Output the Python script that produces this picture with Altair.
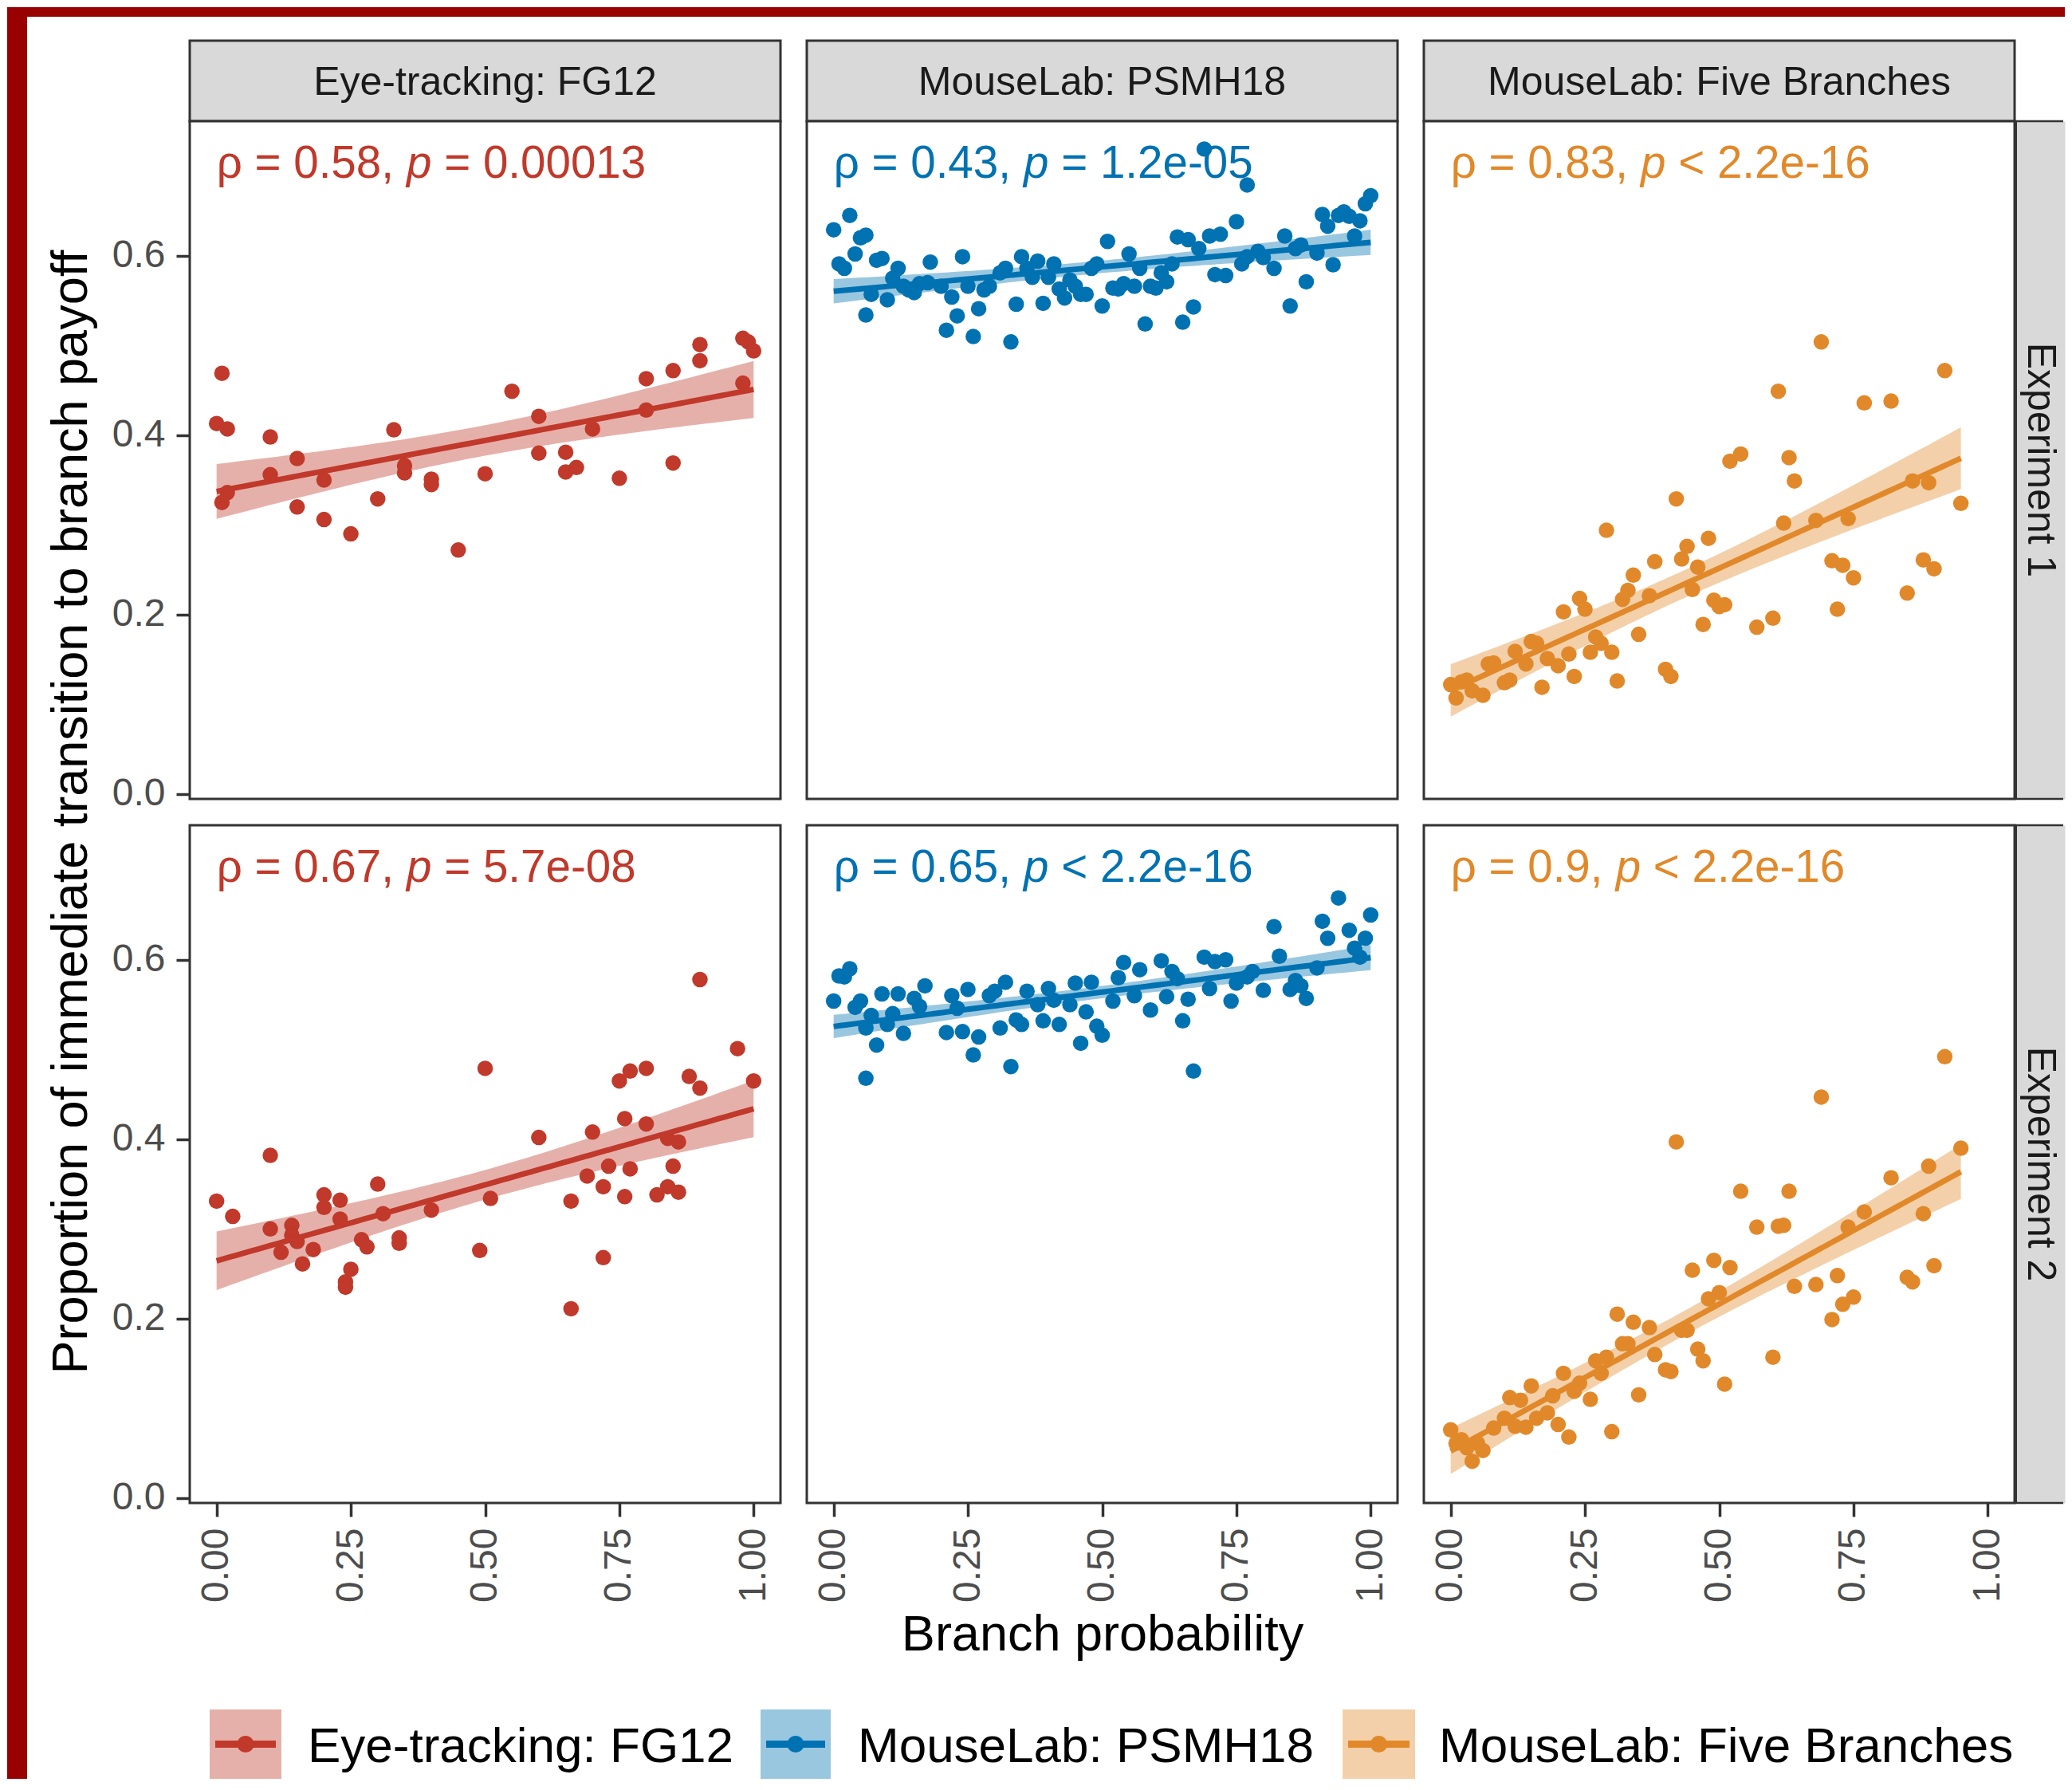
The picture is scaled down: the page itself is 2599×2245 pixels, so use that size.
import numpy as np
import pandas as pd
import altair as alt

# ---------------- data ----------------
SERIES = ["Eye-tracking: FG12", "MouseLab: PSMH18", "MouseLab: Five Branches"]
EXPERIMENTS = ["Experiment 1", "Experiment 2"]
X_TITLE = "Branch probability"
Y_TITLE = "Proportion of immediate transition to branch payoff"
X_TICKS = [0.0, 0.25, 0.5, 0.75, 1.0]
Y_TICKS = [0.0, 0.2, 0.4, 0.6]

RHO = [["0.58", "0.43", "0.83"], ["0.67", "0.65", "0.9"]]
PVAL = [["= 0.00013", "= 1.2e-05", "< 2.2e-16"], ["= 5.7e-08", "< 2.2e-16", "< 2.2e-16"]]

FG12_E1 = [(0.01, 0.469), (0.0, 0.413), (0.02, 0.407), (0.01, 0.325), (0.02, 0.336), (0.10, 0.398),
           (0.10, 0.356), (0.15, 0.374), (0.15, 0.320), (0.20, 0.350), (0.20, 0.306), (0.25, 0.290),
           (0.30, 0.329), (0.33, 0.406), (0.35, 0.366), (0.35, 0.358), (0.40, 0.351), (0.40, 0.345),
           (0.45, 0.272), (0.50, 0.357), (0.55, 0.449), (0.60, 0.421), (0.60, 0.380), (0.65, 0.381),
           (0.65, 0.359), (0.67, 0.364), (0.70, 0.407), (0.75, 0.352), (0.80, 0.463), (0.80, 0.428),
           (0.85, 0.472), (0.85, 0.369), (0.90, 0.501), (0.90, 0.483), (0.98, 0.508), (0.99, 0.504),
           (1.0, 0.494), (0.98, 0.458)]

PSMH18_E1 = [(0.69, 0.719), (0.77, 0.679), (0.0, 0.629), (0.03, 0.645), (0.05, 0.620), (0.06, 0.623),
             (0.04, 0.602), (0.01, 0.591), (0.02, 0.586), (0.08, 0.595), (0.09, 0.597), (0.12, 0.586),
             (0.11, 0.575), (0.13, 0.566), (0.14, 0.562), (0.15, 0.559), (0.07, 0.557), (0.10, 0.551),
             (0.06, 0.534), (0.16, 0.569), (0.18, 0.593), (0.175, 0.570), (0.20, 0.566), (0.22, 0.554),
             (0.23, 0.533), (0.21, 0.517), (0.24, 0.599), (0.25, 0.566), (0.27, 0.541), (0.26, 0.510),
             (0.28, 0.562), (0.29, 0.566), (0.31, 0.581), (0.32, 0.586), (0.33, 0.504), (0.34, 0.546),
             (0.35, 0.599), (0.36, 0.586), (0.37, 0.576), (0.38, 0.594), (0.39, 0.547), (0.40, 0.576),
             (0.41, 0.591), (0.42, 0.563), (0.43, 0.553), (0.44, 0.573), (0.45, 0.566), (0.46, 0.557),
             (0.47, 0.557), (0.48, 0.586), (0.49, 0.591), (0.50, 0.544), (0.51, 0.616), (0.52, 0.564),
             (0.53, 0.563), (0.54, 0.569), (0.55, 0.602), (0.56, 0.566), (0.57, 0.586), (0.58, 0.524),
             (0.59, 0.566), (0.60, 0.564), (0.61, 0.581), (0.62, 0.571), (0.63, 0.591), (0.64, 0.621),
             (0.65, 0.526), (0.66, 0.618), (0.67, 0.543), (0.68, 0.608), (0.70, 0.622), (0.71, 0.579),
             (0.72, 0.624), (0.73, 0.578), (0.75, 0.638), (0.76, 0.591), (0.77, 0.599), (0.79, 0.605),
             (0.80, 0.598), (0.82, 0.586), (0.84, 0.622), (0.85, 0.544), (0.86, 0.608), (0.87, 0.612),
             (0.88, 0.571), (0.90, 0.603), (0.91, 0.646), (0.92, 0.633), (0.93, 0.590), (0.94, 0.645),
             (0.95, 0.649), (0.96, 0.644), (0.97, 0.622), (0.98, 0.639), (0.99, 0.658), (1.0, 0.667)]

FIVE_E1 = [(0.69, 0.504), (0.92, 0.472), (0.61, 0.449), (0.77, 0.436), (0.82, 0.438), (0.54, 0.379),
           (0.52, 0.371), (0.63, 0.375), (0.64, 0.349), (0.42, 0.329), (0.95, 0.324), (0.86, 0.349),
           (0.89, 0.347), (0.62, 0.302), (0.68, 0.305), (0.74, 0.307), (0.29, 0.294), (0.48, 0.285),
           (0.44, 0.276), (0.43, 0.262), (0.38, 0.259), (0.46, 0.253), (0.71, 0.260), (0.73, 0.255),
           (0.75, 0.241), (0.88, 0.261), (0.90, 0.251), (0.34, 0.244), (0.33, 0.227), (0.32, 0.217),
           (0.37, 0.221), (0.45, 0.228), (0.24, 0.218), (0.25, 0.206), (0.21, 0.203), (0.49, 0.216),
           (0.50, 0.209), (0.51, 0.211), (0.47, 0.189), (0.57, 0.186), (0.60, 0.196), (0.72, 0.206),
           (0.85, 0.224), (0.35, 0.178), (0.27, 0.175), (0.28, 0.168), (0.30, 0.158), (0.26, 0.158),
           (0.22, 0.156), (0.20, 0.143), (0.18, 0.151), (0.15, 0.170), (0.16, 0.168), (0.12, 0.159),
           (0.14, 0.145), (0.07, 0.145), (0.08, 0.146), (0.23, 0.131), (0.31, 0.126), (0.40, 0.139),
           (0.41, 0.131), (0.17, 0.119), (0.10, 0.124), (0.11, 0.127), (0.0, 0.122), (0.02, 0.125),
           (0.03, 0.127), (0.01, 0.107), (0.04, 0.115), (0.06, 0.110)]

FG12_E2 = [(0.90, 0.578), (0.97, 0.501), (1.0, 0.465), (0.50, 0.479), (0.75, 0.465), (0.77, 0.476),
           (0.80, 0.479), (0.88, 0.470), (0.90, 0.457), (0.76, 0.423), (0.80, 0.417), (0.70, 0.408),
           (0.60, 0.402), (0.84, 0.401), (0.86, 0.397), (0.10, 0.382), (0.73, 0.370), (0.77, 0.367),
           (0.85, 0.370), (0.69, 0.359), (0.30, 0.350), (0.72, 0.347), (0.82, 0.338), (0.84, 0.347),
           (0.86, 0.341), (0.76, 0.336), (0.20, 0.338), (0.23, 0.332), (0.0, 0.331), (0.20, 0.324),
           (0.51, 0.334), (0.66, 0.331), (0.03, 0.314), (0.31, 0.317), (0.23, 0.311), (0.40, 0.321),
           (0.10, 0.300), (0.14, 0.304), (0.14, 0.293), (0.27, 0.288), (0.28, 0.280), (0.34, 0.290),
           (0.34, 0.284), (0.15, 0.286), (0.18, 0.277), (0.12, 0.274), (0.49, 0.276), (0.16, 0.261),
           (0.72, 0.268), (0.25, 0.255), (0.24, 0.241), (0.24, 0.235), (0.66, 0.211)]

PSMH18_E2 = [(0.94, 0.669), (1.0, 0.650), (0.82, 0.637), (0.91, 0.643), (0.92, 0.624), (0.96, 0.633),
             (0.99, 0.624), (0.97, 0.613), (0.98, 0.603), (0.69, 0.603), (0.71, 0.598), (0.73, 0.600),
             (0.83, 0.604), (0.90, 0.591), (0.61, 0.599), (0.54, 0.597), (0.57, 0.589), (0.03, 0.590),
             (0.01, 0.582), (0.02, 0.581), (0.63, 0.587), (0.78, 0.587), (0.77, 0.581), (0.53, 0.580),
             (0.32, 0.575), (0.45, 0.574), (0.48, 0.575), (0.17, 0.571), (0.64, 0.579), (0.75, 0.574),
             (0.86, 0.577), (0.87, 0.571), (0.25, 0.567), (0.40, 0.568), (0.09, 0.562), (0.12, 0.562),
             (0.36, 0.565), (0.70, 0.568), (0.80, 0.566), (0.85, 0.567), (0.22, 0.560), (0.29, 0.560),
             (0.30, 0.565), (0.56, 0.560), (0.62, 0.559), (0.88, 0.557), (0.0, 0.554), (0.05, 0.554),
             (0.15, 0.557), (0.41, 0.555), (0.44, 0.550), (0.52, 0.554), (0.66, 0.556), (0.74, 0.554),
             (0.04, 0.547), (0.38, 0.550), (0.16, 0.548), (0.23, 0.546), (0.59, 0.544), (0.47, 0.542),
             (0.11, 0.540), (0.07, 0.538), (0.10, 0.528), (0.65, 0.532), (0.34, 0.533), (0.35, 0.528),
             (0.39, 0.532), (0.42, 0.528), (0.49, 0.526), (0.31, 0.524), (0.13, 0.518), (0.21, 0.519),
             (0.24, 0.520), (0.06, 0.524), (0.50, 0.516), (0.27, 0.514), (0.08, 0.505), (0.46, 0.507),
             (0.26, 0.494), (0.33, 0.481), (0.06, 0.468), (0.67, 0.476)]

FIVE_E2 = [(0.92, 0.492), (0.69, 0.447), (0.42, 0.397), (0.95, 0.390), (0.89, 0.370), (0.82, 0.357),
           (0.54, 0.342), (0.63, 0.342), (0.77, 0.319), (0.88, 0.317), (0.57, 0.302), (0.61, 0.303),
           (0.62, 0.304), (0.74, 0.302), (0.45, 0.254), (0.49, 0.265), (0.52, 0.257), (0.64, 0.236),
           (0.68, 0.238), (0.72, 0.248), (0.85, 0.246), (0.86, 0.241), (0.90, 0.259), (0.48, 0.222),
           (0.50, 0.229), (0.73, 0.216), (0.75, 0.224), (0.71, 0.199), (0.31, 0.205), (0.34, 0.196),
           (0.37, 0.190), (0.43, 0.187), (0.44, 0.187), (0.32, 0.172), (0.33, 0.172), (0.46, 0.166),
           (0.47, 0.153), (0.38, 0.160), (0.60, 0.157), (0.40, 0.143), (0.41, 0.141), (0.27, 0.153),
           (0.29, 0.157), (0.28, 0.139), (0.21, 0.139), (0.24, 0.128), (0.23, 0.119), (0.26, 0.110),
           (0.15, 0.125), (0.19, 0.114), (0.11, 0.112), (0.13, 0.109), (0.51, 0.127), (0.35, 0.115),
           (0.18, 0.095), (0.16, 0.089), (0.20, 0.082), (0.10, 0.089), (0.12, 0.080), (0.14, 0.079),
           (0.22, 0.068), (0.30, 0.074), (0.08, 0.078), (0.0, 0.076), (0.02, 0.065), (0.01, 0.061),
           (0.05, 0.061), (0.06, 0.053), (0.04, 0.041), (0.03, 0.056)]

PANELS = [[FG12_E1, PSMH18_E1, FIVE_E1], [FG12_E2, PSMH18_E2, FIVE_E2]]

# ---------------- style ----------------
COLORS = ["#C0392B", "#0072B2", "#E1892A"]
FONT = "Liberation Sans"
RED = "#990000"
BORDER = "#333333"
STRIP_FILL = "#D9D9D9"

PW, PH = 741, 850
GAP = 33
STRIP_H = 101
RSTRIP_W = 63
LEFT_W = 25
YT_W = 204
COL_W = [LEFT_W, YT_W, PW, GAP, PW, GAP, PW, RSTRIP_W]
ROW_H = [12, 30, STRIP_H, PH, 33, PH, 259, 87]

ANN_FS = 56.5
ANN_Y = 0.687
XS = alt.Scale(domain=[-0.05, 1.05], nice=False, zero=False)
YS = alt.Scale(domain=[-0.0055, 0.75], nice=False, zero=False)

AW = {"\u03c1": 578, " ": 278, "=": 584, "<": 584, ".": 278, ",": 278, "-": 333, "e": 556, "p": 556}


def tw(s, fs=ANN_FS):
    return sum(AW.get(ch, 556) for ch in s) * fs / 1000.0


def light(hexc, a=0.4):
    rgb = [int(hexc[i:i + 2], 16) for i in (1, 3, 5)]
    return "#%02X%02X%02X" % tuple(int(round(a * v + (1 - a) * 255)) for v in rgb)


def smooth(px, py):
    x = np.asarray(px, float)
    y = np.asarray(py, float)
    n = len(x)
    mx = x.mean()
    sxx = ((x - mx) ** 2).sum()
    b = ((x - mx) * (y - y.mean())).sum() / sxx
    a = y.mean() - b * mx
    s = np.sqrt(((y - (a + b * x)) ** 2).sum() / (n - 2))
    df = n - 2
    z = 1.959964
    t = z + (z ** 3 + z) / (4 * df) + (5 * z ** 5 + 16 * z ** 3 + 3 * z) / (96 * df ** 2)
    g = np.linspace(x.min(), x.max(), 80)
    f = a + b * g
    se = s * np.sqrt(1.0 / n + (g - mx) ** 2 / sxx)
    band = pd.DataFrame({"x": g, "y": f - t * se, "y2": f + t * se})
    line = pd.DataFrame({"x": g, "y": f})
    return band, line


DUMMY = pd.DataFrame({"k": [0]})

AXIS_COMMON = dict(labelFontSize=48, labelColor="#4D4D4D", tickSize=17, tickWidth=3.5,
                   tickColor=BORDER, domain=False, grid=False, labelPadding=14, labelFlush=False)


def blank(w, h, fill=None, ext_x=0, ext_y=0):
    mk = alt.Chart(DUMMY).mark_rect(color=fill if fill else "#FFFFFF", opacity=1 if fill else 0)
    return mk.encode(x=alt.value(0), x2=alt.value(w + ext_x), y=alt.value(0),
                     y2=alt.value(h + ext_y)).properties(width=w, height=h)


def panel(r, c):
    pts = PANELS[r][c]
    color = COLORS[c]
    px = [p[0] for p in pts]
    py = [p[1] for p in pts]
    pdf = pd.DataFrame({"x": px, "y": py})
    band, line = smooth(px, py)
    if r == 1:
        xaxis = alt.Axis(values=X_TICKS, format=".2f", labelAngle=270,
                         title=(X_TITLE if c == 1 else None), titleFontSize=63,
                         titleFontWeight="normal", titleColor="#000000", titlePadding=10,
                         **AXIS_COMMON)
    else:
        xaxis = None
    yaxis = alt.Axis(values=Y_TICKS, format=".1f", title=None, **AXIS_COMMON) if c == 0 else None
    ex = alt.X("x:Q", scale=XS, axis=xaxis)
    ey = alt.Y("y:Q", scale=YS, axis=yaxis)

    l_pts = alt.Chart(pdf).mark_circle(color=color, opacity=1, size=380).encode(x=ex, y=ey)
    l_band = alt.Chart(band).mark_area(color=color, opacity=0.4).encode(x=ex, y=ey, y2="y2:Q")
    l_line = alt.Chart(line).mark_line(color=color, strokeWidth=7).encode(x=ex, y=ey)

    ann = pd.DataFrame({"x": [0.0], "y": [ANN_Y]})
    rho = RHO[r][c]
    t1 = alt.Chart(ann).mark_text(text=f"\u03c1 = {rho},", align="left", baseline="alphabetic",
                                  fontSize=ANN_FS, color=color).encode(x=ex, y=ey)
    t2 = alt.Chart(ann).mark_text(text="p", align="left", baseline="alphabetic", fontStyle="italic",
                                  fontSize=ANN_FS, color=color,
                                  dx=tw(f"\u03c1 = {rho}, ")).encode(x=ex, y=ey)
    t3 = alt.Chart(ann).mark_text(text=PVAL[r][c], align="left", baseline="alphabetic",
                                  fontSize=ANN_FS, color=color,
                                  dx=tw(f"\u03c1 = {rho}, p ")).encode(x=ex, y=ey)
    return alt.layer(l_pts, l_band, l_line, t1, t2, t3).properties(
        width=PW, height=PH,
        view=alt.ViewBackground(fill="#FFFFFF", stroke=BORDER, strokeWidth=3))


def top_strip(label):
    return alt.Chart(DUMMY).mark_text(text=label, fontSize=50, color="#1A1A1A", align="center",
                                      baseline="alphabetic").encode(
        x=alt.value(PW / 2), y=alt.value(68)).properties(
        width=PW, height=STRIP_H,
        view=alt.ViewBackground(fill=STRIP_FILL, stroke=BORDER, strokeWidth=3))


def right_strip(label):
    txt = alt.Chart(DUMMY).mark_text(text=label, fontSize=50, color="#1A1A1A", align="center",
                                     baseline="alphabetic", angle=90).encode(
        x=alt.value(17), y=alt.value(PH / 2))
    top = alt.Chart(DUMMY).mark_rule(color=BORDER, strokeWidth=2.5).encode(
        x=alt.value(0), x2=alt.value(RSTRIP_W - 2), y=alt.value(0))
    bot = alt.Chart(DUMMY).mark_rule(color=BORDER, strokeWidth=2.5).encode(
        x=alt.value(0), x2=alt.value(RSTRIP_W - 2), y=alt.value(PH))
    left = alt.Chart(DUMMY).mark_rule(color=BORDER, strokeWidth=3).encode(
        x=alt.value(1.5), y=alt.value(0), y2=alt.value(PH))
    return alt.layer(txt, top, bot, left).properties(
        width=RSTRIP_W, height=PH, view=alt.ViewBackground(fill=STRIP_FILL))


def y_title_cell():
    return alt.Chart(DUMMY).mark_text(text=Y_TITLE, fontSize=63, color="#000000", align="center",
                                      baseline="alphabetic", angle=270).encode(
        x=alt.value(75), y=alt.value(16.5)).properties(width=YT_W, height=33)


LEG_KEY_X = [25, 716, 1446]
LEG_KEY_W = [90, 88, 91]
LEG_TEXT_X = [148, 838, 1567]


def legend_cell():
    h = ROW_H[7]
    layers = []
    for i, name in enumerate(SERIES):
        x0 = LEG_KEY_X[i]
        w = LEG_KEY_W[i]
        layers.append(alt.Chart(DUMMY).mark_rect(color=light(COLORS[i])).encode(
            x=alt.value(x0), x2=alt.value(x0 + w), y=alt.value(0), y2=alt.value(h)))
        layers.append(alt.Chart(DUMMY).mark_rule(color=COLORS[i], strokeWidth=9).encode(
            x=alt.value(x0 + 7), x2=alt.value(x0 + w - 7), y=alt.value(h / 2)))
        layers.append(alt.Chart(DUMMY).mark_circle(color=COLORS[i], opacity=1, size=450).encode(
            x=alt.value(x0 + w / 2), y=alt.value(h / 2)))
        layers.append(alt.Chart(DUMMY).mark_text(text=name, fontSize=62, color="#000000",
                                                 align="left", baseline="alphabetic").encode(
            x=alt.value(LEG_TEXT_X[i]), y=alt.value(66)))
    return alt.layer(*layers).properties(width=PW, height=h)


nrows, ncols = len(ROW_H), len(COL_W)
cells = []
for ri, rh in enumerate(ROW_H):
    for ci, cw in enumerate(COL_W):
        if ri == 0:
            cells.append(blank(cw, rh, RED, ext_x=(3 if ci < ncols - 1 else 0)))
        elif ci == 0:
            cells.append(blank(cw, rh, RED, ext_y=(3 if ri < nrows - 1 else 0)))
        elif ri == 2 and ci in (2, 4, 6):
            cells.append(top_strip(SERIES[(ci - 2) // 2]))
        elif ri in (3, 5) and ci in (2, 4, 6):
            cells.append(panel(0 if ri == 3 else 1, (ci - 2) // 2))
        elif ri in (3, 5) and ci == 7:
            cells.append(right_strip(EXPERIMENTS[0 if ri == 3 else 1]))
        elif ri == 4 and ci == 1:
            cells.append(y_title_cell())
        elif ri == 7 and ci == 2:
            cells.append(legend_cell())
        else:
            cells.append(blank(cw, rh))

chart = alt.concat(*cells, columns=ncols, spacing=0, bounds="flush", padding=0).configure(
    font=FONT).configure_view(stroke="transparent")

chart.save("out.html", embed_options={"renderer": "svg", "actions": False})
